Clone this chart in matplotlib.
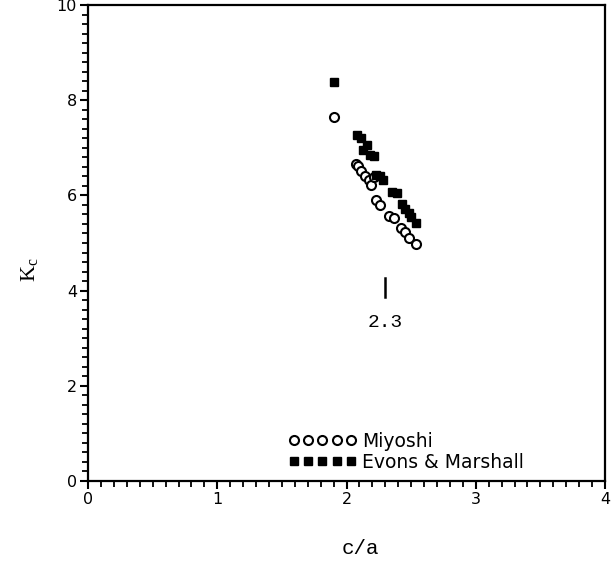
import matplotlib
matplotlib.use('Agg')
import matplotlib.pyplot as plt
from matplotlib.ticker import MultipleLocator

# Miyoshi (open circles)
miyoshi_x = [1.90, 2.07, 2.09, 2.11, 2.14, 2.17, 2.19, 2.21, 2.23, 2.26,
             2.33, 2.37, 2.42, 2.45, 2.48, 2.54]
miyoshi_y = [7.65, 6.66, 6.62, 6.51, 6.41, 6.32, 6.22, 6.38, 5.90, 5.80,
             5.57, 5.53, 5.32, 5.24, 5.11, 4.98]

# Evons & Marshall (filled squares)
evans_x = [1.90, 2.08, 2.11, 2.13, 2.16, 2.18, 2.21, 2.23, 2.26, 2.28,
           2.35, 2.39, 2.43, 2.45, 2.48, 2.50, 2.54]
evans_y = [8.38, 7.27, 7.20, 6.95, 7.05, 6.85, 6.82, 6.42, 6.40, 6.32,
           6.08, 6.05, 5.82, 5.72, 5.62, 5.55, 5.42]

marker_x = 2.3
marker_label = '2.3'

fig = plt.figure(figsize=(6.13, 5.62), dpi=100)
ax = fig.add_axes([0.1436, 0.1441, 0.8434, 0.847])

ax.plot(miyoshi_x, miyoshi_y, 'o', ms=6.5, mfc='white', mec='black', mew=1.5,
        ls='none', label='Miyoshi')
ax.plot(evans_x, evans_y, 's', ms=6, mfc='black', mec='black',
        ls='none', label='Evons & Marshall')

# vertical tick mark at c/a = 2.3
ax.plot([marker_x, marker_x], [3.86, 4.26], color='black', lw=1.8)
ax.text(marker_x, 3.34, marker_label, ha='center', va='center',
        family='Liberation Mono', fontsize=14)

ax.set_xlim(0, 4)
ax.set_ylim(0, 10)
ax.xaxis.set_major_locator(MultipleLocator(1))
ax.xaxis.set_minor_locator(MultipleLocator(0.1))
ax.yaxis.set_major_locator(MultipleLocator(2))
ax.yaxis.set_minor_locator(MultipleLocator(0.2))
ax.tick_params(which='major', direction='out', length=6, width=1.5,
               labelsize=11.5, pad=2, top=False, right=False)
ax.tick_params(which='minor', direction='out', length=4, width=1.3,
               top=False, right=False)
for s in ax.spines.values():
    s.set_linewidth(1.6)

fig.text(360 / 613, 1 - 548 / 562, 'c/a', family='Liberation Mono',
         fontsize=15, ha='center', va='center')
fig.text(30 / 613, 1 - 270 / 562, 'K$_\\mathregular{c}$',
         family='Liberation Serif', fontsize=16, rotation=90,
         ha='center', va='center')

ax.legend(loc='lower left', bbox_to_anchor=(0.37, 0.0), frameon=False,
          numpoints=5, handlelength=3.6, handletextpad=0.3, labelspacing=0.1,
          fontsize=13.5, borderpad=0)

fig.savefig('out.png', dpi=100)
